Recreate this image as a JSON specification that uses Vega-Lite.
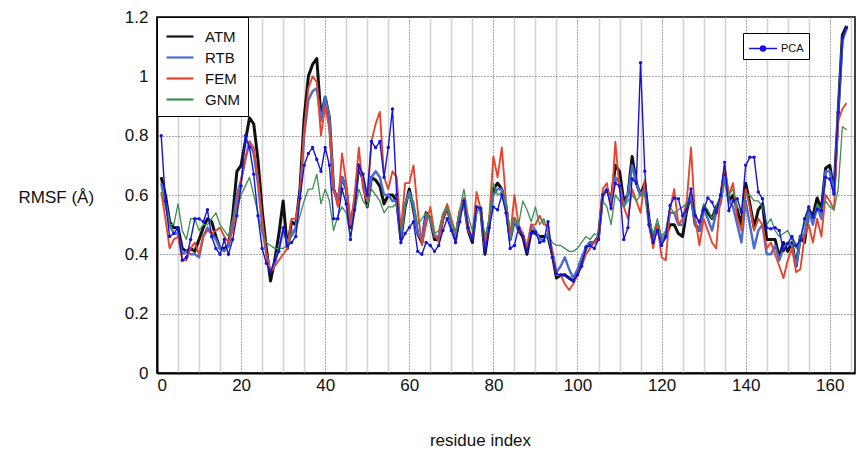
{
"$schema":"https://vega.github.io/schema/vega-lite/v6.json",
"width":698,"height":356,
"autosize":{"type":"none"},
"padding":{"left":157,"top":17,"right":5,"bottom":84},
"background":"white",
"config":{"font":"Liberation Sans","view":{"stroke":"#000","strokeWidth":1.5}},
"data":{"values":[
{"r":1,"ATM":0.66,"RTB":0.64,"FEM":0.61,"GNM":0.63,"PCA":0.80},
{"r":2,"ATM":0.60,"RTB":0.58,"FEM":0.52,"GNM":0.56,"PCA":0.58},
{"r":3,"ATM":0.51,"RTB":0.50,"FEM":0.42,"GNM":0.50,"PCA":0.46},
{"r":4,"ATM":0.49,"RTB":0.47,"FEM":0.45,"GNM":0.50,"PCA":0.47},
{"r":5,"ATM":0.49,"RTB":0.47,"FEM":0.46,"GNM":0.57,"PCA":0.49},
{"r":6,"ATM":0.42,"RTB":0.40,"FEM":0.38,"GNM":0.48,"PCA":0.38},
{"r":7,"ATM":0.41,"RTB":0.41,"FEM":0.38,"GNM":0.45,"PCA":0.39},
{"r":8,"ATM":0.42,"RTB":0.40,"FEM":0.42,"GNM":0.52,"PCA":0.45},
{"r":9,"ATM":0.41,"RTB":0.40,"FEM":0.44,"GNM":0.52,"PCA":0.52},
{"r":10,"ATM":0.45,"RTB":0.39,"FEM":0.40,"GNM":0.48,"PCA":0.52},
{"r":11,"ATM":0.49,"RTB":0.46,"FEM":0.46,"GNM":0.50,"PCA":0.51},
{"r":12,"ATM":0.52,"RTB":0.49,"FEM":0.48,"GNM":0.50,"PCA":0.55},
{"r":13,"ATM":0.51,"RTB":0.47,"FEM":0.47,"GNM":0.52,"PCA":0.46},
{"r":14,"ATM":0.46,"RTB":0.45,"FEM":0.48,"GNM":0.54,"PCA":0.42},
{"r":15,"ATM":0.42,"RTB":0.42,"FEM":0.49,"GNM":0.50,"PCA":0.40},
{"r":16,"ATM":0.42,"RTB":0.41,"FEM":0.46,"GNM":0.48,"PCA":0.45},
{"r":17,"ATM":0.43,"RTB":0.43,"FEM":0.44,"GNM":0.46,"PCA":0.40},
{"r":18,"ATM":0.53,"RTB":0.50,"FEM":0.48,"GNM":0.52,"PCA":0.45},
{"r":19,"ATM":0.68,"RTB":0.60,"FEM":0.56,"GNM":0.55,"PCA":0.53},
{"r":20,"ATM":0.70,"RTB":0.65,"FEM":0.65,"GNM":0.60,"PCA":0.63},
{"r":21,"ATM":0.78,"RTB":0.72,"FEM":0.72,"GNM":0.63,"PCA":0.80},
{"r":22,"ATM":0.86,"RTB":0.78,"FEM":0.78,"GNM":0.66,"PCA":0.76},
{"r":23,"ATM":0.84,"RTB":0.74,"FEM":0.76,"GNM":0.60,"PCA":0.67},
{"r":24,"ATM":0.72,"RTB":0.64,"FEM":0.66,"GNM":0.54,"PCA":0.53},
{"r":25,"ATM":0.55,"RTB":0.50,"FEM":0.52,"GNM":0.47,"PCA":0.42},
{"r":26,"ATM":0.42,"RTB":0.40,"FEM":0.40,"GNM":0.44,"PCA":0.37},
{"r":27,"ATM":0.31,"RTB":0.34,"FEM":0.34,"GNM":0.43,"PCA":0.34},
{"r":28,"ATM":0.38,"RTB":0.37,"FEM":0.36,"GNM":0.42,"PCA":0.38},
{"r":29,"ATM":0.47,"RTB":0.42,"FEM":0.38,"GNM":0.42,"PCA":0.41},
{"r":30,"ATM":0.58,"RTB":0.48,"FEM":0.40,"GNM":0.42,"PCA":0.49},
{"r":31,"ATM":0.42,"RTB":0.44,"FEM":0.42,"GNM":0.43,"PCA":0.43},
{"r":32,"ATM":0.51,"RTB":0.47,"FEM":0.52,"GNM":0.46,"PCA":0.44},
{"r":33,"ATM":0.50,"RTB":0.49,"FEM":0.52,"GNM":0.48,"PCA":0.46},
{"r":34,"ATM":0.62,"RTB":0.60,"FEM":0.60,"GNM":0.53,"PCA":0.59},
{"r":35,"ATM":0.86,"RTB":0.80,"FEM":0.82,"GNM":0.58,"PCA":0.70},
{"r":36,"ATM":1.00,"RTB":0.92,"FEM":0.96,"GNM":0.62,"PCA":0.74},
{"r":37,"ATM":1.04,"RTB":0.95,"FEM":1.00,"GNM":0.62,"PCA":0.76},
{"r":38,"ATM":1.06,"RTB":0.96,"FEM":0.98,"GNM":0.67,"PCA":0.72},
{"r":39,"ATM":0.86,"RTB":0.85,"FEM":0.80,"GNM":0.57,"PCA":0.68},
{"r":40,"ATM":0.93,"RTB":0.93,"FEM":0.90,"GNM":0.62,"PCA":0.76},
{"r":41,"ATM":0.86,"RTB":0.86,"FEM":0.82,"GNM":0.58,"PCA":0.70},
{"r":42,"ATM":0.62,"RTB":0.62,"FEM":0.62,"GNM":0.48,"PCA":0.52},
{"r":43,"ATM":0.58,"RTB":0.58,"FEM":0.56,"GNM":0.53,"PCA":0.52},
{"r":44,"ATM":0.66,"RTB":0.66,"FEM":0.74,"GNM":0.56,"PCA":0.62},
{"r":45,"ATM":0.62,"RTB":0.62,"FEM":0.64,"GNM":0.54,"PCA":0.57},
{"r":46,"ATM":0.49,"RTB":0.50,"FEM":0.50,"GNM":0.46,"PCA":0.45},
{"r":47,"ATM":0.57,"RTB":0.58,"FEM":0.60,"GNM":0.54,"PCA":0.55},
{"r":48,"ATM":0.70,"RTB":0.70,"FEM":0.76,"GNM":0.62,"PCA":0.70},
{"r":49,"ATM":0.65,"RTB":0.66,"FEM":0.62,"GNM":0.58,"PCA":0.67},
{"r":50,"ATM":0.56,"RTB":0.58,"FEM":0.58,"GNM":0.56,"PCA":0.60},
{"r":51,"ATM":0.66,"RTB":0.66,"FEM":0.78,"GNM":0.62,"PCA":0.78},
{"r":52,"ATM":0.65,"RTB":0.68,"FEM":0.84,"GNM":0.60,"PCA":0.76},
{"r":53,"ATM":0.63,"RTB":0.66,"FEM":0.88,"GNM":0.58,"PCA":0.78},
{"r":54,"ATM":0.57,"RTB":0.60,"FEM":0.66,"GNM":0.54,"PCA":0.66},
{"r":55,"ATM":0.60,"RTB":0.60,"FEM":0.62,"GNM":0.56,"PCA":0.76},
{"r":56,"ATM":0.60,"RTB":0.58,"FEM":0.68,"GNM":0.56,"PCA":0.89},
{"r":57,"ATM":0.58,"RTB":0.58,"FEM":0.66,"GNM":0.57,"PCA":0.60},
{"r":58,"ATM":0.45,"RTB":0.46,"FEM":0.48,"GNM":0.47,"PCA":0.44},
{"r":59,"ATM":0.56,"RTB":0.57,"FEM":0.64,"GNM":0.57,"PCA":0.47},
{"r":60,"ATM":0.62,"RTB":0.61,"FEM":0.64,"GNM":0.60,"PCA":0.49},
{"r":61,"ATM":0.55,"RTB":0.56,"FEM":0.70,"GNM":0.58,"PCA":0.51},
{"r":62,"ATM":0.47,"RTB":0.47,"FEM":0.55,"GNM":0.50,"PCA":0.41},
{"r":63,"ATM":0.44,"RTB":0.45,"FEM":0.43,"GNM":0.52,"PCA":0.40},
{"r":64,"ATM":0.54,"RTB":0.53,"FEM":0.50,"GNM":0.54,"PCA":0.44},
{"r":65,"ATM":0.52,"RTB":0.52,"FEM":0.56,"GNM":0.52,"PCA":0.43},
{"r":66,"ATM":0.45,"RTB":0.46,"FEM":0.47,"GNM":0.47,"PCA":0.41},
{"r":67,"ATM":0.45,"RTB":0.46,"FEM":0.44,"GNM":0.48,"PCA":0.43},
{"r":68,"ATM":0.52,"RTB":0.53,"FEM":0.52,"GNM":0.54,"PCA":0.48},
{"r":69,"ATM":0.56,"RTB":0.56,"FEM":0.57,"GNM":0.56,"PCA":0.52},
{"r":70,"ATM":0.50,"RTB":0.50,"FEM":0.52,"GNM":0.51,"PCA":0.48},
{"r":71,"ATM":0.45,"RTB":0.46,"FEM":0.47,"GNM":0.47,"PCA":0.44},
{"r":72,"ATM":0.54,"RTB":0.54,"FEM":0.55,"GNM":0.55,"PCA":0.51},
{"r":73,"ATM":0.58,"RTB":0.57,"FEM":0.59,"GNM":0.62,"PCA":0.58},
{"r":74,"ATM":0.48,"RTB":0.49,"FEM":0.48,"GNM":0.53,"PCA":0.49},
{"r":75,"ATM":0.44,"RTB":0.45,"FEM":0.46,"GNM":0.48,"PCA":0.45},
{"r":76,"ATM":0.56,"RTB":0.55,"FEM":0.61,"GNM":0.56,"PCA":0.56},
{"r":77,"ATM":0.55,"RTB":0.55,"FEM":0.55,"GNM":0.55,"PCA":0.555},
{"r":78,"ATM":0.40,"RTB":0.42,"FEM":0.42,"GNM":0.46,"PCA":0.41},
{"r":79,"ATM":0.50,"RTB":0.51,"FEM":0.52,"GNM":0.52,"PCA":0.49},
{"r":80,"ATM":0.62,"RTB":0.60,"FEM":0.73,"GNM":0.64,"PCA":0.56},
{"r":81,"ATM":0.64,"RTB":0.62,"FEM":0.66,"GNM":0.60,"PCA":0.55},
{"r":82,"ATM":0.62,"RTB":0.62,"FEM":0.76,"GNM":0.61,"PCA":0.60},
{"r":83,"ATM":0.56,"RTB":0.56,"FEM":0.58,"GNM":0.58,"PCA":0.54},
{"r":84,"ATM":0.45,"RTB":0.45,"FEM":0.46,"GNM":0.45,"PCA":0.42},
{"r":85,"ATM":0.52,"RTB":0.52,"FEM":0.60,"GNM":0.52,"PCA":0.43},
{"r":86,"ATM":0.48,"RTB":0.48,"FEM":0.50,"GNM":0.50,"PCA":0.49},
{"r":87,"ATM":0.46,"RTB":0.47,"FEM":0.47,"GNM":0.58,"PCA":0.46},
{"r":88,"ATM":0.40,"RTB":0.42,"FEM":0.42,"GNM":0.55,"PCA":0.41},
{"r":89,"ATM":0.48,"RTB":0.50,"FEM":0.50,"GNM":0.51,"PCA":0.47},
{"r":90,"ATM":0.47,"RTB":0.48,"FEM":0.50,"GNM":0.56,"PCA":0.475},
{"r":91,"ATM":0.46,"RTB":0.45,"FEM":0.53,"GNM":0.50,"PCA":0.44},
{"r":92,"ATM":0.46,"RTB":0.45,"FEM":0.50,"GNM":0.52,"PCA":0.445},
{"r":93,"ATM":0.46,"RTB":0.47,"FEM":0.50,"GNM":0.47,"PCA":0.51},
{"r":94,"ATM":0.40,"RTB":0.41,"FEM":0.40,"GNM":0.44,"PCA":0.39},
{"r":95,"ATM":0.32,"RTB":0.34,"FEM":0.33,"GNM":0.43,"PCA":0.335},
{"r":96,"ATM":0.33,"RTB":0.36,"FEM":0.33,"GNM":0.43,"PCA":0.33},
{"r":97,"ATM":0.33,"RTB":0.39,"FEM":0.30,"GNM":0.42,"PCA":0.33},
{"r":98,"ATM":0.32,"RTB":0.35,"FEM":0.28,"GNM":0.41,"PCA":0.32},
{"r":99,"ATM":0.31,"RTB":0.32,"FEM":0.30,"GNM":0.41,"PCA":0.31},
{"r":100,"ATM":0.34,"RTB":0.35,"FEM":0.33,"GNM":0.42,"PCA":0.33},
{"r":101,"ATM":0.38,"RTB":0.39,"FEM":0.36,"GNM":0.44,"PCA":0.36},
{"r":102,"ATM":0.42,"RTB":0.42,"FEM":0.40,"GNM":0.46,"PCA":0.425},
{"r":103,"ATM":0.44,"RTB":0.44,"FEM":0.42,"GNM":0.45,"PCA":0.43},
{"r":104,"ATM":0.44,"RTB":0.44,"FEM":0.44,"GNM":0.47,"PCA":0.42},
{"r":105,"ATM":0.46,"RTB":0.45,"FEM":0.46,"GNM":0.46,"PCA":0.45},
{"r":106,"ATM":0.60,"RTB":0.60,"FEM":0.62,"GNM":0.58,"PCA":0.60},
{"r":107,"ATM":0.62,"RTB":0.62,"FEM":0.64,"GNM":0.56,"PCA":0.615},
{"r":108,"ATM":0.58,"RTB":0.58,"FEM":0.55,"GNM":0.50,"PCA":0.555},
{"r":109,"ATM":0.70,"RTB":0.66,"FEM":0.78,"GNM":0.60,"PCA":0.64},
{"r":110,"ATM":0.68,"RTB":0.64,"FEM":0.62,"GNM":0.58,"PCA":0.63},
{"r":111,"ATM":0.58,"RTB":0.56,"FEM":0.56,"GNM":0.56,"PCA":0.45},
{"r":112,"ATM":0.60,"RTB":0.60,"FEM":0.52,"GNM":0.58,"PCA":0.49},
{"r":113,"ATM":0.73,"RTB":0.70,"FEM":0.62,"GNM":0.60,"PCA":0.655},
{"r":114,"ATM":0.64,"RTB":0.64,"FEM":0.58,"GNM":0.58,"PCA":0.64},
{"r":115,"ATM":0.60,"RTB":0.60,"FEM":0.54,"GNM":0.60,"PCA":1.046},
{"r":116,"ATM":0.64,"RTB":0.62,"FEM":0.65,"GNM":0.60,"PCA":0.68},
{"r":117,"ATM":0.52,"RTB":0.50,"FEM":0.50,"GNM":0.52,"PCA":0.50},
{"r":118,"ATM":0.44,"RTB":0.44,"FEM":0.42,"GNM":0.47,"PCA":0.44},
{"r":119,"ATM":0.50,"RTB":0.50,"FEM":0.50,"GNM":0.52,"PCA":0.48},
{"r":120,"ATM":0.44,"RTB":0.44,"FEM":0.39,"GNM":0.46,"PCA":0.43},
{"r":121,"ATM":0.46,"RTB":0.47,"FEM":0.38,"GNM":0.48,"PCA":0.46},
{"r":122,"ATM":0.50,"RTB":0.54,"FEM":0.55,"GNM":0.56,"PCA":0.565},
{"r":123,"ATM":0.50,"RTB":0.54,"FEM":0.62,"GNM":0.54,"PCA":0.59},
{"r":124,"ATM":0.47,"RTB":0.50,"FEM":0.50,"GNM":0.55,"PCA":0.587},
{"r":125,"ATM":0.46,"RTB":0.50,"FEM":0.52,"GNM":0.56,"PCA":0.53},
{"r":126,"ATM":0.55,"RTB":0.56,"FEM":0.58,"GNM":0.57,"PCA":0.55},
{"r":127,"ATM":0.60,"RTB":0.60,"FEM":0.76,"GNM":0.60,"PCA":0.62},
{"r":128,"ATM":0.50,"RTB":0.50,"FEM":0.52,"GNM":0.54,"PCA":0.53},
{"r":129,"ATM":0.48,"RTB":0.48,"FEM":0.43,"GNM":0.50,"PCA":0.51},
{"r":130,"ATM":0.56,"RTB":0.55,"FEM":0.52,"GNM":0.57,"PCA":0.55},
{"r":131,"ATM":0.54,"RTB":0.52,"FEM":0.48,"GNM":0.55,"PCA":0.59},
{"r":132,"ATM":0.52,"RTB":0.48,"FEM":0.44,"GNM":0.52,"PCA":0.576},
{"r":133,"ATM":0.56,"RTB":0.54,"FEM":0.42,"GNM":0.56,"PCA":0.542},
{"r":134,"ATM":0.58,"RTB":0.57,"FEM":0.60,"GNM":0.60,"PCA":0.60},
{"r":135,"ATM":0.68,"RTB":0.66,"FEM":0.70,"GNM":0.64,"PCA":0.71},
{"r":136,"ATM":0.58,"RTB":0.58,"FEM":0.60,"GNM":0.60,"PCA":0.547},
{"r":137,"ATM":0.60,"RTB":0.56,"FEM":0.64,"GNM":0.62,"PCA":0.58},
{"r":138,"ATM":0.55,"RTB":0.50,"FEM":0.52,"GNM":0.56,"PCA":0.587},
{"r":139,"ATM":0.50,"RTB":0.44,"FEM":0.48,"GNM":0.54,"PCA":0.542},
{"r":140,"ATM":0.64,"RTB":0.58,"FEM":0.62,"GNM":0.60,"PCA":0.70},
{"r":141,"ATM":0.57,"RTB":0.50,"FEM":0.56,"GNM":0.60,"PCA":0.727},
{"r":142,"ATM":0.49,"RTB":0.42,"FEM":0.48,"GNM":0.58,"PCA":0.727},
{"r":143,"ATM":0.55,"RTB":0.48,"FEM":0.52,"GNM":0.58,"PCA":0.61},
{"r":144,"ATM":0.57,"RTB":0.50,"FEM":0.50,"GNM":0.56,"PCA":0.587},
{"r":145,"ATM":0.45,"RTB":0.40,"FEM":0.42,"GNM":0.50,"PCA":0.49},
{"r":146,"ATM":0.45,"RTB":0.40,"FEM":0.44,"GNM":0.52,"PCA":0.486},
{"r":147,"ATM":0.45,"RTB":0.43,"FEM":0.40,"GNM":0.48,"PCA":0.49},
{"r":148,"ATM":0.39,"RTB":0.38,"FEM":0.36,"GNM":0.46,"PCA":0.48},
{"r":149,"ATM":0.44,"RTB":0.42,"FEM":0.32,"GNM":0.47,"PCA":0.413},
{"r":150,"ATM":0.41,"RTB":0.44,"FEM":0.38,"GNM":0.48,"PCA":0.436},
{"r":151,"ATM":0.44,"RTB":0.43,"FEM":0.42,"GNM":0.45,"PCA":0.46},
{"r":152,"ATM":0.36,"RTB":0.36,"FEM":0.34,"GNM":0.42,"PCA":0.43},
{"r":153,"ATM":0.46,"RTB":0.45,"FEM":0.35,"GNM":0.46,"PCA":0.447},
{"r":154,"ATM":0.44,"RTB":0.47,"FEM":0.46,"GNM":0.50,"PCA":0.52},
{"r":155,"ATM":0.55,"RTB":0.54,"FEM":0.50,"GNM":0.56,"PCA":0.56},
{"r":156,"ATM":0.53,"RTB":0.50,"FEM":0.44,"GNM":0.52,"PCA":0.525},
{"r":157,"ATM":0.59,"RTB":0.56,"FEM":0.52,"GNM":0.57,"PCA":0.553},
{"r":158,"ATM":0.55,"RTB":0.52,"FEM":0.46,"GNM":0.55,"PCA":0.547},
{"r":159,"ATM":0.69,"RTB":0.68,"FEM":0.60,"GNM":0.58,"PCA":0.66},
{"r":160,"ATM":0.70,"RTB":0.68,"FEM":0.58,"GNM":0.56,"PCA":0.654},
{"r":161,"ATM":0.61,"RTB":0.60,"FEM":0.55,"GNM":0.55,"PCA":0.604},
{"r":162,"ATM":0.88,"RTB":0.88,"FEM":0.85,"GNM":0.62,"PCA":0.878},
{"r":163,"ATM":1.14,"RTB":1.12,"FEM":0.89,"GNM":0.83,"PCA":1.13},
{"r":164,"ATM":1.17,"RTB":1.16,"FEM":0.91,"GNM":0.82,"PCA":1.164}
]},
"layer":[
{
"transform":[{"fold":["ATM","RTB","FEM","GNM"],"as":["model","rmsf"]}],
"mark":{"type":"line","strokeJoin":"round"},
"encoding":{
"x":{"field":"r","type":"quantitative","scale":{"domain":[0,166],"nice":false},
"axis":{"orient":"top","values":[5,10,15,25,30,35,45,50,55,65,70,75,85,90,95,105,110,115,125,130,135,145,150,155,165],"grid":true,"gridColor":"#d4d4d4","gridWidth":1.6,"labels":false,"ticks":false,"domain":false,"title":null}},
"y":{"field":"rmsf","type":"quantitative","scale":{"domain":[0,1.2],"nice":false},
"axis":{"values":[0,0.2,0.4,0.6,0.8,1,1.2],"format":"~g","grid":true,"gridColor":"#555","gridDash":[1,2],"gridWidth":1,"ticks":false,"labelPadding":9,"labelFontSize":17,"labelColor":"#111","domainColor":"#000","domainWidth":2,
"title":"RMSF (Å)","titleAngle":0,"titleAlign":"left","titleBaseline":"middle","titleX":-139,"titleY":180,"titleFontSize":17,"titleFontWeight":"normal","titleColor":"#111"}},
"color":{"field":"model","type":"nominal","scale":{"domain":["ATM","RTB","FEM","GNM"],"range":["#111111","#4a6ccf","#e8432d","#3d8f52"]},
"legend":{"orient":"none","legendX":0,"legendY":0,"title":null,"strokeColor":"#000","fillColor":"#fff","padding":8,"labelFontSize":15,"labelColor":"#111","symbolType":"M-1,0L1.7,0","symbolSize":400,"symbolStrokeWidth":2.2,"rowPadding":1,"labelOffset":17}},
"strokeWidth":{"field":"model","type":"nominal","scale":{"domain":["ATM","RTB","FEM","GNM"],"range":[3,1.3,1.8,1.8]},"legend":null}
}
},
{
"transform":[{"fold":["PCA"],"as":["model","rmsf"]}],
"mark":{"type":"line","strokeWidth":1.4,"point":{"filled":true,"size":12}},
"encoding":{
"x":{"field":"r","type":"quantitative","scale":{"domain":[0,166],"nice":false},
"axis":{"orient":"bottom","values":[0,20,40,60,80,100,120,140,160],"grid":true,"gridColor":"#555","gridDash":[1,2],"gridWidth":1,"ticks":false,"labelPadding":4,"labelFontSize":17,"labelColor":"#111","domainColor":"#000","domainWidth":2,
"title":"residue index","titleX":323,"titleY":67,"titleAlign":"center","titleBaseline":"middle","titleFontSize":17,"titleFontWeight":"normal","titleColor":"#111"}},
"y":{"field":"rmsf","type":"quantitative","scale":{"domain":[0,1.2],"nice":false}},
"color":{"field":"model","type":"nominal","scale":{"domain":["PCA"],"range":["#1414dc"]},
"legend":{"orient":"none","legendX":586,"legendY":16,"title":null,"strokeColor":"#000","fillColor":"#fff","padding":5,"labelFontSize":11,"labelColor":"#111","symbolType":"M-1,0L1.95,0M0.21,0A0.26,0.26 0 1,1 0.73,0A0.26,0.26 0 1,1 0.21,0Z","symbolSize":361,"symbolStrokeWidth":1.5,"symbolFillColor":"#1414dc","labelOffset":12}}
}
}
],
"resolve":{"scale":{"color":"independent"},"axis":{"x":"independent"}}
}
